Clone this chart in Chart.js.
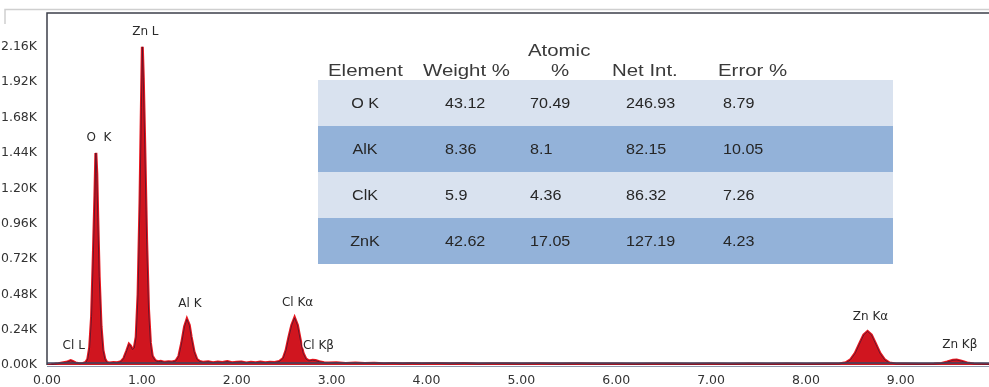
<!DOCTYPE html>
<html>
<head>
<meta charset="utf-8">
<title>EDS spectrum</title>
<script src="https://cdn.jsdelivr.net/npm/chart.js@4.4.1/dist/chart.umd.min.js"></script>
<style>
  html, body { margin: 0; padding: 0; background: #ffffff; }
  #wrap { width: 989px; height: 387px; position: relative; }
</style>
</head>
<body>
<div id="wrap"><canvas id="spec" width="989" height="387"></canvas></div>
<script>
// Spectrum: photon energy (keV) and counts
const energyKeV = [
  0.00, 0.04, 0.08, 0.12, 0.16, 0.20, 0.23, 0.25, 0.27, 0.30, 0.34, 0.38, 0.41, 0.43, 0.45, 0.47, 0.49,
  0.505, 0.515, 0.525, 0.535, 0.55, 0.57, 0.59, 0.61, 0.63, 0.66, 0.70, 0.74, 0.78, 0.81, 0.84, 0.865,
  0.88, 0.90, 0.92, 0.94, 0.96, 0.98, 0.995, 1.005, 1.015, 1.03, 1.05, 1.07, 1.09, 1.11, 1.14, 1.17,
  1.20, 1.24, 1.28, 1.32, 1.36, 1.39, 1.42, 1.45, 1.475, 1.50, 1.52, 1.55, 1.58, 1.61, 1.65, 1.70,
  1.75, 1.80, 1.85, 1.90, 1.95, 2.00, 2.05, 2.10, 2.15, 2.20, 2.25, 2.30, 2.35, 2.40, 2.45, 2.49,
  2.52, 2.55, 2.58, 2.61, 2.64, 2.67, 2.70, 2.73, 2.76, 2.80, 2.83, 2.87, 2.92, 2.97, 3.05, 3.15,
  3.25, 3.35, 3.45, 3.55, 3.65, 3.75, 3.85, 3.95, 4.10, 4.25, 4.40, 4.55, 4.70, 4.85, 5.00, 5.20,
  5.40, 5.60, 5.80, 6.00, 6.20, 6.40, 6.60, 6.80, 7.00, 7.20, 7.40, 7.60, 7.80, 8.00, 8.20, 8.35,
  8.42, 8.47, 8.52, 8.57, 8.61, 8.65, 8.69, 8.73, 8.78, 8.83, 8.88, 8.95, 9.05, 9.20, 9.35, 9.43,
  9.49, 9.55, 9.59, 9.64, 9.70, 9.77, 9.85, 9.93
];
const counts = [
  0, 2, 5, 9, 14, 18, 24, 30, 24, 14, 9, 11, 18, 40, 120, 330, 780,
  1150, 1440, 1300, 1000, 600, 260, 100, 40, 18, 14, 17, 15, 22, 45, 95, 140,
  130, 105, 115, 190, 480, 1100, 1750, 2160, 1950, 1500, 850, 380, 150, 60, 30, 22,
  25, 18, 22, 20, 28, 60, 150, 260, 310, 270, 190, 90, 38, 24, 18, 22,
  16, 20, 17, 23, 15, 19, 21, 14, 18, 16, 20, 15, 19, 17, 24, 45,
  100, 190, 270, 320, 270, 170, 80, 40, 28, 32, 30, 22, 16, 13, 15, 11,
  13, 10, 12, 9, 11, 8, 10, 9, 11, 8, 10, 7, 9, 8, 7, 9,
  6, 8, 6, 7, 5, 7, 6, 5, 7, 5, 6, 5, 6, 5, 6, 7,
  15, 35, 80, 150, 205, 228, 205, 150, 80, 35, 14, 7, 6, 5, 6, 10,
  20, 32, 34, 26, 14, 7, 5, 4
];

// Peak identifications
const peakNames    = ['Cl L', 'O  K', 'Zn L', 'Al K', 'Cl K\u03b1', 'Cl K\u03b2', 'Zn K\u03b1', 'Zn K\u03b2'];
const peakEnergies = [0.25, 0.515, 1.005, 1.475, 2.61, 2.83, 8.65, 9.59];
const peakCounts   = [30, 1440, 2160, 310, 320, 30, 228, 34];

// Axis ticks
const xTickValues = [0, 1, 2, 3, 4, 5, 6, 7, 8, 9];
const xTickLabels = ['0.00', '1.00', '2.00', '3.00', '4.00', '5.00', '6.00', '7.00', '8.00', '9.00'];
const yTickValues = [0, 240, 480, 720, 960, 1200, 1440, 1680, 1920, 2160];
const yTickLabels = ['0.00K', '0.24K', '0.48K', '0.72K', '0.96K', '1.20K', '1.44K', '1.68K', '1.92K', '2.16K'];

// Quantification results
const tableHeaders = ['Element', 'Weight %', 'Atomic', 'Net Int.', 'Error %'];
const tableElements = ['O K', 'AlK', 'ClK', 'ZnK'];
const weightPct = [43.12, 8.36, 5.9, 42.62];
const atomicPct = [70.49, 8.1, 4.36, 17.05];
const netInt = [246.93, 82.15, 86.32, 127.19];
const errorPct = [8.79, 10.05, 7.26, 4.23];

const points = energyKeV.map((e, i) => ({ x: e, y: counts[i] }));

function stretchedText(ctx, text, x, y, sx, align) {
  ctx.save();
  ctx.translate(x, y);
  ctx.scale(sx, 1);
  ctx.textAlign = align || 'left';
  ctx.fillText(text, 0, 0);
  ctx.restore();
}

const framePlugin = {
  id: 'frame',
  beforeDraw(chart) {
    const ctx = chart.ctx;
    ctx.save();
    // outer window frame
    ctx.strokeStyle = '#cfcfcf';
    ctx.lineWidth = 1.5;
    ctx.beginPath();
    ctx.moveTo(5, 24); ctx.lineTo(5, 9.5); ctx.lineTo(chart.width, 9.5);
    ctx.stroke();
    ctx.restore();
  },
  afterDatasetsDraw(chart) {
    const ctx = chart.ctx;
    const a = chart.chartArea;
    const xs = chart.scales.x, ys = chart.scales.y;
    ctx.save();
    // plot box: left and top edges
    ctx.strokeStyle = '#3c3f4a';
    ctx.lineWidth = 1.5;
    ctx.beginPath();
    ctx.moveTo(a.left, a.bottom); ctx.lineTo(a.left, a.top); ctx.lineTo(a.right, a.top);
    ctx.stroke();
    // double baseline
    ctx.strokeStyle = '#3b4660';
    ctx.lineWidth = 1.5;
    ctx.beginPath(); ctx.moveTo(a.left, a.bottom - 2); ctx.lineTo(a.right, a.bottom - 2); ctx.stroke();
    ctx.strokeStyle = '#8d96ab';
    ctx.lineWidth = 1.2;
    ctx.beginPath(); ctx.moveTo(a.left, a.bottom + 1.5); ctx.lineTo(a.right, a.bottom + 1.5); ctx.stroke();

    // peak labels
    ctx.font = '12px "DejaVu Sans"';
    ctx.textBaseline = 'middle';
    ctx.textAlign = 'center';
    peakNames.forEach((name, i) => {
      const px = xs.getPixelForValue(peakEnergies[i]);
      const py = ys.getPixelForValue(peakCounts[i]) - 15;
      ctx.lineWidth = 3;
      ctx.strokeStyle = 'rgba(255,255,255,0.85)';
      ctx.strokeText(name, px + 3, py);
      ctx.fillStyle = '#2a2a2a';
      ctx.fillText(name, px + 3, py);
    });

    // results table
    const rowTop = 80, rowH = 46, tLeft = 318, tRight = 893;
    const rowFill = ['#d9e2ef', '#93b2d9', '#d9e2ef', '#93b2d9'];
    rowFill.forEach((c, i) => {
      ctx.fillStyle = c;
      ctx.fillRect(tLeft, rowTop + i * rowH, tRight - tLeft, rowH);
    });
    const sx = 1.2;
    ctx.fillStyle = '#3a3a3a';
    ctx.font = '17px "Liberation Sans"';
    ctx.textBaseline = 'middle';
    stretchedText(ctx, tableHeaders[0], 328, 71, sx);
    stretchedText(ctx, tableHeaders[1], 423, 71, sx);
    stretchedText(ctx, tableHeaders[2], 528, 51, sx);
    stretchedText(ctx, '%', 560, 71, sx, 'center');
    stretchedText(ctx, tableHeaders[3], 612, 71, sx);
    stretchedText(ctx, tableHeaders[4], 718, 71, sx);

    ctx.fillStyle = '#262626';
    ctx.font = '14px "Liberation Sans"';
    tableElements.forEach((el, i) => {
      const cy = rowTop + i * rowH + rowH / 2 + 1;
      stretchedText(ctx, el, 365, cy, 1.15, 'center');
      stretchedText(ctx, String(weightPct[i]), 445, cy, 1.15);
      stretchedText(ctx, String(atomicPct[i]), 530, cy, 1.15);
      stretchedText(ctx, String(netInt[i]), 626, cy, 1.15);
      stretchedText(ctx, String(errorPct[i]), 723, cy, 1.15);
    });
    ctx.restore();
  }
};

new Chart(document.getElementById('spec'), {
  type: 'line',
  data: {
    datasets: [{
      // measured spectrum, bright red (drawn underneath)
      label: 'Counts',
      data: points,
      parsing: false,
      order: 2,
      borderColor: '#e8161e',
      borderWidth: 3,
      backgroundColor: '#e3141c',
      fill: 'origin',
      pointRadius: 0,
      tension: 0
    }, {
      // thin dark trace of the same counts (drawn on top)
      label: 'Overlay',
      data: points,
      parsing: false,
      order: 1,
      borderColor: 'rgba(70,20,45,0.75)',
      borderWidth: 1,
      backgroundColor: 'rgba(95,25,50,0.14)',
      fill: 'origin',
      pointRadius: 0,
      tension: 0
    }]
  },
  options: {
    responsive: false,
    animation: false,
    devicePixelRatio: 1,
    layout: { padding: { top: 13, right: 0, left: 0, bottom: 0 } },
    plugins: { legend: { display: false }, tooltip: { enabled: false } },
    scales: {
      x: {
        type: 'linear',
        min: 0,
        max: 9.93,
        afterBuildTicks: s => { s.ticks = xTickValues.map(v => ({ value: v })); },
        afterFit: s => { s.height = 22; },
        grid: { display: false },
        border: { display: false },
        ticks: {
          autoSkip: false,
          maxRotation: 0,
          padding: 0,
          color: '#333333',
          font: { family: 'DejaVu Sans', size: 12.5 },
          callback: v => xTickLabels[xTickValues.indexOf(v)]
        }
      },
      y: {
        min: 0,
        max: 2390,
        afterBuildTicks: s => { s.ticks = yTickValues.map(v => ({ value: v })); },
        afterFit: s => { s.width = 47; },
        grid: { display: false },
        border: { display: false },
        ticks: {
          padding: 2,
          color: '#333333',
          font: { family: 'DejaVu Sans', size: 12.5 },
          callback: v => yTickLabels[yTickValues.indexOf(v)]
        }
      }
    }
  },
  plugins: [framePlugin]
});
</script>
</body>
</html>
